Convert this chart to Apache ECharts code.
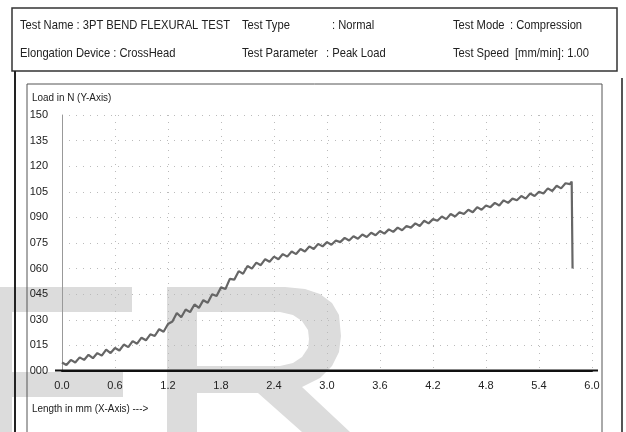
<!DOCTYPE html>
<html>
<head>
<meta charset="utf-8">
<script src="https://cdn.jsdelivr.net/npm/echarts@6/dist/echarts.min.js"></script>
<style>
html,body{margin:0;padding:0;background:#fff;}
#chart{width:626px;height:432px;}
</style>
</head>
<body>
<div id="chart"></div>
<script>
// ---- data ----
const lengthMm = [0.00,0.05,0.10,0.15,0.20,0.25,0.30,0.35,0.40,0.45,0.50,0.55,0.60,0.65,0.70,0.75,0.80,0.85,0.90,0.95,
  1.00,1.05,1.10,1.15,1.20,1.25,1.30,1.35,1.40,1.45,1.50,1.55,1.60,1.65,1.70,1.75,1.80,1.85,1.90,1.95,
  2.00,2.05,2.10,2.15,2.20,2.25,2.30,2.35,2.40,2.45,2.50,2.55,2.60,2.65,2.70,2.75,2.80,2.85,2.90,2.95,
  3.00,3.05,3.10,3.15,3.20,3.25,3.30,3.35,3.40,3.45,3.50,3.55,3.60,3.65,3.70,3.75,3.80,3.85,3.90,3.95,
  4.00,4.05,4.10,4.15,4.20,4.25,4.30,4.35,4.40,4.45,4.50,4.55,4.60,4.65,4.70,4.75,4.80,4.85,4.90,4.95,
  5.00,5.05,5.10,5.15,5.20,5.25,5.30,5.35,5.40,5.45,5.50,5.55,5.60,5.65,5.70,5.75,5.77,5.78];
const loadN = [5,3.5,6.5,5,8,6.5,9.5,7.5,10.5,9,12.5,10.5,13.5,12,15.5,14,17.5,16,19.5,18,
  21.5,20.5,24.5,23,27.5,29,34,31.5,36,34.5,39,37,41.5,40,45,44,49,48,54,53.5,
  58.5,57,61.5,60,63.5,62,65.5,64,67,65.5,68.5,67,70,68.5,71.5,70,73,71.5,74.5,73,
  75.5,74,76.5,75.5,78,76.5,79,77.5,80,78.5,81,79.5,82,80.5,83,81.5,84,82.5,85,84,
  86.5,85,88,86.5,89,88,90.5,89,92,90.5,93,92,94.5,93,96,94.5,97,96,98.5,97,
  100,98.5,101,100,102.5,101,104,102.5,105,104,107,105.5,108.5,107,110,109.5,111,60];
const xTicks = [0.0,0.6,1.2,1.8,2.4,3.0,3.6,4.2,4.8,5.4,6.0];
const yTicks = ['000','015','030','045','060','075','090','105','120','135','150'];
const headerRow1 = ['Test Name : 3PT BEND FLEXURAL TEST','Test Type',': Normal','Test Mode',': Compression'];
const headerRow2 = ['Elongation Device : CrossHead','Test Parameter',': Peak Load','Test Speed','[mm/min]: 1.00'];

const points = lengthMm.map((x,i)=>[x, loadN[i]]);
const FONT = 'Liberation Sans';

const chart = echarts.init(document.getElementById('chart'), null, {renderer:'canvas'});

function txt(x,y,t,size,sx){
  return {type:'text', x:x, y:y, scaleX:sx, z:50,
    style:{text:t, font: size+'px "'+FONT+'"', fill:'#222', textVerticalAlign:'middle'}};
}

const wm = '#dcdcdc';
const H = 13, SX = 0.86;
const graphics = [
  // watermark "F"
  {type:'rect', z:-10, shape:{x:0,y:287,width:132,height:25}, style:{fill:wm}},
  {type:'rect', z:-10, shape:{x:0,y:287,width:12,height:145}, style:{fill:wm}},
  {type:'rect', z:-10, shape:{x:0,y:372,width:123,height:25}, style:{fill:wm}},
  // watermark "R"
  {type:'polygon', z:-10, shape:{points:[[167,287],[285,287],[305,289],[320,294],[332,303],[339,315],[341,336],[339,352],[332,366],[320,378],[302,387],[350,432],[302,432],[258,393],[197,393],[197,432],[167,432]]},
    style:{fill:wm}},
  {type:'polygon', z:-9, shape:{points:[[197,312],[280,312],[293,315],[302,321],[308,330],[309,339],[308,348],[302,357],[293,363],[280,366],[197,366]]},
    style:{fill:'#fff'}},
  // header box
  {type:'rect', z:40, shape:{x:12,y:8,width:605,height:63}, style:{fill:'none', stroke:'#333', lineWidth:1.5}},
  // chart box
  {type:'rect', z:40, shape:{x:27,y:84,width:575,height:360}, style:{fill:'none', stroke:'#555', lineWidth:1}},
  // page outer borders
  {type:'line', z:40, shape:{x1:15,y1:71,x2:15,y2:432}, style:{stroke:'#222', lineWidth:2}},
  {type:'line', z:40, shape:{x1:622,y1:78,x2:622,y2:432}, style:{stroke:'#555', lineWidth:2}},
  // x-axis extension line
  {type:'line', z:40, shape:{x1:55,y1:370.5,x2:598,y2:370.5}, style:{stroke:'#111', lineWidth:2}},
  txt(20,25,headerRow1[0],H,SX), txt(242,25,headerRow1[1],H,SX), txt(332,25,headerRow1[2],H,SX),
  txt(453,25,headerRow1[3],H,SX), txt(510,25,headerRow1[4],H,SX),
  txt(20,53,headerRow2[0],H,SX), txt(242,53,headerRow2[1],H,SX), txt(326,53,headerRow2[2],H,SX),
  txt(453,53,headerRow2[3],H,SX), txt(515,53,headerRow2[4],H,SX),
  txt(32,98,'Load in N (Y-Axis)',11.5,0.86),
  txt(32,409,'Length in mm (X-Axis) --->',11.5,0.86)
];

chart.setOption({
  animation:false,
  backgroundColor:'#fff',
  graphic: graphics,
  grid:{left:62, right:34, top:115, bottom:61, containLabel:false},
  xAxis:{
    type:'value', min:0, max:6, interval:0.6,
    axisLine:{show:true, onZero:false, lineStyle:{color:'#111', width:2}},
    axisTick:{show:false},
    axisLabel:{color:'#222', fontFamily:FONT, fontSize:11, margin:9,
      formatter:v=>{const i=xTicks.findIndex(t=>Math.abs(t-v)<1e-6); return i>=0? xTicks[i].toFixed(1):'';}},
    splitLine:{show:true, lineStyle:{color:'#bbb', type:[1,6], width:1}}
  },
  yAxis:{
    type:'value', min:0, max:150, interval:15,
    axisLine:{show:true, lineStyle:{color:'#999', width:1}},
    axisTick:{show:false},
    axisLabel:{color:'#222', fontFamily:FONT, fontSize:11, margin:14, align:'right',
      formatter:v=>yTicks[Math.round(v/15)]},
    splitLine:{show:true, lineStyle:{color:'#bbb', type:[1,6], width:1}}
  },
  series:[{
    type:'line', data:points, showSymbol:false, symbol:'none',
    lineStyle:{color:'#666', width:2.2},
    z:5
  }]
});
</script>
</body>
</html>
